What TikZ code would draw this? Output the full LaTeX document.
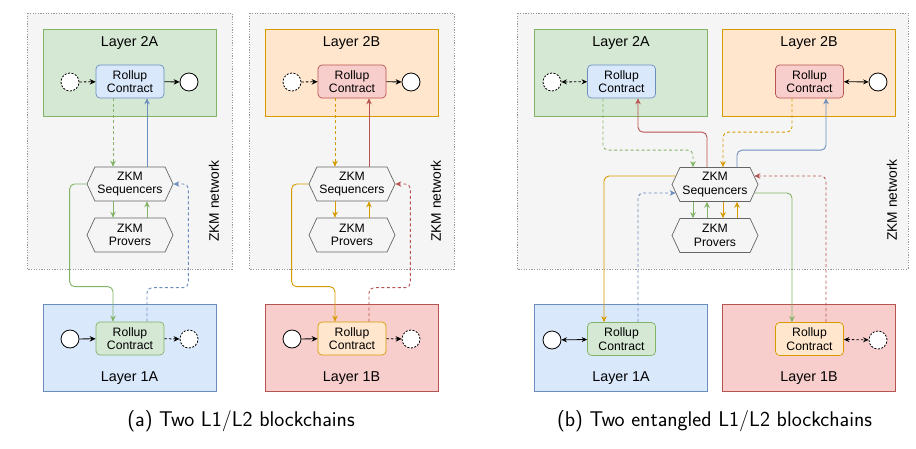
\documentclass[tikz,border=0pt]{standalone}
\usepackage{fontspec}
\newfontfamily\dfont{Liberation Sans}
\usetikzlibrary{arrows.meta,shapes.symbols,calc}
\definecolor{gfill}{HTML}{D5E8D4}\definecolor{gdraw}{HTML}{82B366}
\definecolor{bfill}{HTML}{DAE8FC}\definecolor{bdraw}{HTML}{6C8EBF}
\definecolor{ofill}{HTML}{FFE6CC}\definecolor{odraw}{HTML}{D79B00}
\definecolor{rfill}{HTML}{F8CECC}\definecolor{rdraw}{HTML}{B85450}
\definecolor{netfill}{HTML}{F5F5F5}\definecolor{netdraw}{HTML}{9A9A9A}
\definecolor{hexdraw}{HTML}{666666}
\begin{document}
\begin{tikzpicture}[x=1pt,y=-1pt,
 net/.style={draw=netdraw, fill=netfill, dash pattern=on 1.2pt off 1.4pt, line width=0.6pt},
 layer/.style={rectangle, line width=0.7pt, minimum width=173pt, minimum height=87pt, inner sep=0pt},
 layerlabel/.style={font=\dfont\fontsize{14.3}{16}\selectfont, inner sep=0pt},
 contract/.style={rectangle, rounded corners=4pt, line width=0.7pt, minimum width=68pt, minimum height=33pt, align=center, font=\dfont\fontsize{12.2}{13.7}\selectfont, inner sep=0pt},
 circ/.style={circle, draw=black, fill=white, line width=0.8pt, minimum size=18pt, inner sep=0pt},
 dcirc/.style={circ, dash pattern=on 2pt off 1.5pt},
 hexa/.style={signal, signal to=east and west, signal pointer angle=130, draw=hexdraw, line width=0.7pt, minimum width=86pt, minimum height=34pt, align=center, font=\dfont\fontsize{12.2}{13.7}\selectfont, inner sep=0pt},
 netlabel/.style={rotate=90, font=\dfont\fontsize{13.8}{15}\selectfont, inner sep=0pt},
 conn/.style={line width=0.9pt, rounded corners=5pt, -{Stealth[length=6pt,width=5.5pt]}},
 dconn/.style={conn, dash pattern=on 3pt off 2.5pt},
 bconn/.style={line width=0.8pt, {Stealth[length=5.5pt,width=5pt]}-{Stealth[length=5.5pt,width=5pt]}},
 caption/.style={font=\sffamily\fontsize{21.3}{24}\selectfont, inner sep=0pt}
]
\useasboundingbox[fill=white] (0,0) rectangle (916,448);

% ================= panel (a), first =================
\draw[net] (27,13) rectangle (232,269);
\node[netlabel] (netA) at (214,201) {ZKM network};
\node[layer, fill=gfill, draw=gdraw] (L2A) at (129.5,72.5) {};
\node[layerlabel] (L2Alab) at (129.5,43) {Layer 2A};
\node[contract, fill=bfill, draw=bdraw] (c2A) at (130,81.5) {Rollup\\Contract};
\node[dcirc] (c2Ain) at (70,82) {};
\node[circ] (c2Aout) at (189,82) {};
\draw[conn, black, line width=0.8pt, dash pattern=on 2.5pt off 2pt] (c2Ain) -- (c2A);
\draw[conn, black, line width=0.8pt] (c2A) -- (c2Aout);
\node[hexa] (seqA) at (130,184) {ZKM\\Sequencers};
\node[hexa] (provA) at (130,235) {ZKM\\Provers};
\node[layer, fill=bfill, draw=bdraw] (L1A) at (129.5,347.5) {};
\node[layerlabel] (L1Alab) at (129.5,378) {Layer 1A};
\node[contract, fill=gfill, draw=gdraw] (c1A) at (130,338.5) {Rollup\\Contract};
\node[circ] (c1Ain) at (70,339) {};
\node[dcirc] (c1Aout) at (189,339) {};
\draw[conn, black, line width=0.8pt] (c1Ain) -- (c1A);
\draw[conn, black, line width=0.8pt, dash pattern=on 2.5pt off 2pt] (c1A) -- (c1Aout);
\draw[dconn, gdraw] ([xshift=-17pt]c2A.south) -- ([xshift=-17pt]seqA.north);
\draw[conn, bdraw] ([xshift=17pt]seqA.north) -- ([xshift=17pt]c2A.south);
\draw[conn, gdraw] ([xshift=-17pt]seqA.south) -- ([xshift=-17pt]provA.north);
\draw[conn, gdraw] ([xshift=17pt]provA.north) -- ([xshift=17pt]seqA.south);
\draw[conn, gdraw] (seqA.west) -- ++(-17,0) |- ([xshift=-17pt,yshift=35pt]c1A.north) -- ([xshift=-17pt]c1A.north);
\draw[dconn, bdraw] ([xshift=17pt]c1A.north) -- ++(0,-34) -| ($(seqA.east)+(15,0)$) -- (seqA.east);

% ================= panel (a), second =================
\draw[net] (249,13) rectangle (454,269);
\node[netlabel] (netB) at (436,201) {ZKM network};
\node[layer, fill=ofill, draw=odraw] (L2B) at (351.5,72.5) {};
\node[layerlabel] (L2Blab) at (351.5,43) {Layer 2B};
\node[contract, fill=rfill, draw=rdraw] (c2B) at (352,81.5) {Rollup\\Contract};
\node[dcirc] (c2Bin) at (292,82) {};
\node[circ] (c2Bout) at (411,82) {};
\draw[conn, black, line width=0.8pt, dash pattern=on 2.5pt off 2pt] (c2Bin) -- (c2B);
\draw[conn, black, line width=0.8pt] (c2B) -- (c2Bout);
\node[hexa] (seqB) at (352,184) {ZKM\\Sequencers};
\node[hexa] (provB) at (352,235) {ZKM\\Provers};
\node[layer, fill=rfill, draw=rdraw] (L1B) at (351.5,347.5) {};
\node[layerlabel] (L1Blab) at (351.5,378) {Layer 1B};
\node[contract, fill=ofill, draw=odraw] (c1B) at (352,338.5) {Rollup\\Contract};
\node[circ] (c1Bin) at (292,339) {};
\node[dcirc] (c1Bout) at (411,339) {};
\draw[conn, black, line width=0.8pt] (c1Bin) -- (c1B);
\draw[conn, black, line width=0.8pt, dash pattern=on 2.5pt off 2pt] (c1B) -- (c1Bout);
\draw[dconn, odraw] ([xshift=-17pt]c2B.south) -- ([xshift=-17pt]seqB.north);
\draw[conn, rdraw] ([xshift=17pt]seqB.north) -- ([xshift=17pt]c2B.south);
\draw[conn, odraw] ([xshift=-17pt]seqB.south) -- ([xshift=-17pt]provB.north);
\draw[conn, odraw] ([xshift=17pt]provB.north) -- ([xshift=17pt]seqB.south);
\draw[conn, odraw] (seqB.west) -- ++(-17,0) |- ([xshift=-17pt,yshift=35pt]c1B.north) -- ([xshift=-17pt]c1B.north);
\draw[dconn, rdraw] ([xshift=17pt]c1B.north) -- ++(0,-34) -| ($(seqB.east)+(15,0)$) -- (seqB.east);

\node[caption] (capA) at (241,421) {(a) Two L1/L2 blockchains};

% ================= panel (b) =================
\draw[net] (517,13) rectangle (908,269);
\node[netlabel] (netC) at (892,200) {ZKM network};
\node[layer, fill=gfill, draw=gdraw] (bL2A) at (621,72.5) {};
\node[layerlabel] (bL2Alab) at (621,43) {Layer 2A};
\node[layer, fill=ofill, draw=odraw] (bL2B) at (809,72.5) {};
\node[layerlabel] (bL2Blab) at (809,43) {Layer 2B};
\node[contract, fill=bfill, draw=bdraw] (bc2A) at (621.5,81.5) {Rollup\\Contract};
\node[contract, fill=rfill, draw=rdraw] (bc2B) at (809.5,81.5) {Rollup\\Contract};
\node[dcirc] (bc2Ain) at (552,82) {};
\node[circ] (bc2Bout) at (878,82) {};
\draw[bconn, dash pattern=on 2.5pt off 2pt] (bc2Ain) -- (bc2A);
\draw[bconn] (bc2B) -- (bc2Bout);
\node[hexa] (seqC) at (715,184.5) {ZKM\\Sequencers};
\node[hexa] (provC) at (715,235.5) {ZKM\\Provers};
\node[layer, fill=bfill, draw=bdraw] (bL1A) at (621,347.5) {};
\node[layerlabel] (bL1Alab) at (621,378) {Layer 1A};
\node[layer, fill=rfill, draw=rdraw] (bL1B) at (809,347.5) {};
\node[layerlabel] (bL1Blab) at (809,378) {Layer 1B};
\node[contract, fill=gfill, draw=gdraw] (bc1A) at (621.5,339) {Rollup\\Contract};
\node[contract, fill=ofill, draw=odraw] (bc1B) at (809.5,339) {Rollup\\Contract};
\node[circ] (bc1Ain) at (552,340) {};
\node[dcirc] (bc1Bout) at (878,340) {};
\draw[bconn] (bc1Ain) -- (bc1A);
\draw[bconn, dash pattern=on 2.5pt off 2pt] (bc1B) -- (bc1Bout);
% layer 2 <-> sequencers
\draw[dconn, gdraw] ([xshift=-18.5pt]bc2A.south) |- ($(seqC.north)+(-22,-17)$) -- ([xshift=-22pt]seqC.north);
\draw[conn, rdraw] ([xshift=-8pt]seqC.north) -- ++(0,-35) -| ([xshift=16.5pt]bc2A.south);
\draw[dconn, odraw] ([xshift=-17.5pt]bc2B.south) |- ($(seqC.north)+(8,-35)$) -- ([xshift=8pt]seqC.north);
\draw[conn, bdraw] ([xshift=22pt]seqC.north) -- ++(0,-17) -| ([xshift=16.5pt]bc2B.south);
% sequencers <-> provers
\draw[conn, gdraw] ([xshift=-22pt]seqC.south) -- ([xshift=-22pt]provC.north);
\draw[conn, gdraw] ([xshift=-8pt]provC.north) -- ([xshift=-8pt]seqC.south);
\draw[conn, odraw] ([xshift=8pt]seqC.south) -- ([xshift=8pt]provC.north);
\draw[conn, odraw] ([xshift=22pt]provC.north) -- ([xshift=22pt]seqC.south);
% sequencers <-> layer 1
\draw[conn, odraw] ([xshift=4pt,yshift=8.5pt]seqC.west) -| ([xshift=-17.5pt]bc1A.north);
\draw[dconn, bdraw] ([xshift=16.5pt]bc1A.north) |- ([xshift=4pt,yshift=-8.5pt]seqC.west);
\draw[conn, gdraw] ([xshift=-4pt,yshift=-8.5pt]seqC.east) -| ([xshift=-17.5pt]bc1B.north);
\draw[dconn, rdraw] ([xshift=16.5pt]bc1B.north) |- ([xshift=-4pt,yshift=8.5pt]seqC.east);

\node[caption] (capB) at (714.5,421) {(b) Two entangled L1/L2 blockchains};
\end{tikzpicture}
\end{document}
